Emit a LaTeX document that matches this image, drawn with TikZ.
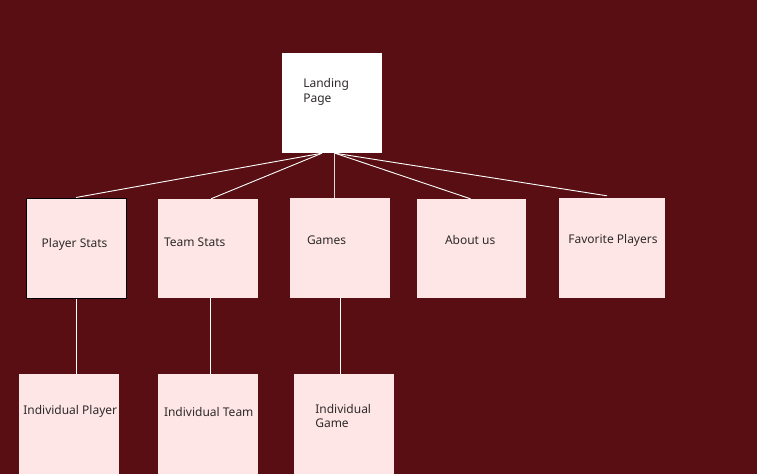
\documentclass[tikz,border=0pt]{standalone}
\usepackage{fontspec}
\setmainfont{Noto Sans}
\definecolor{bgred}{HTML}{580E12}
\definecolor{pagepink}{HTML}{FFE6E6}
\definecolor{txtgray}{HTML}{2E2A2A}
\begin{document}
\begin{tikzpicture}[x=1pt,y=-1pt,
        page/.style={rectangle,fill=pagepink,inner sep=0pt,minimum width=100pt,minimum height=100pt},
        home/.style={page,fill=white},
        txt/.style={text=txtgray,inner sep=0pt,anchor=west,align=left,font=\fontsize{12}{14.7}\selectfont},
        link/.style={draw=white,line width=0.9pt}
      ]
      \fill[bgred] (0,0) rectangle (757,474);
      \useasboundingbox (0,0) rectangle (757,474);
      % top level
      \node[home,label={[txt,xshift=21.3pt,yshift=11pt]west:Landing\\Page}] (landing) at (332,103) {};
      % second level
      \node[page,draw=black,line width=1pt,label={[txt,xshift=16pt,yshift=4pt]west:Player Stats}] (playerstats) at (76,248) {};
      \node[page,minimum height=99pt,label={[txt,xshift=6pt,yshift=6pt]west:Team Stats}] (teamstats) at (208,248.5) {};
      \node[page,label={[txt,xshift=17pt,yshift=8pt]west:Games}] (games) at (340,248) {};
      \node[page,minimum width=109pt,minimum height=99pt,label={[txt,xshift=28pt,yshift=8.5pt]west:About us}] (aboutus) at (471.5,248.5) {};
      \node[page,minimum width=106pt,label={[txt,xshift=9.3pt,yshift=8pt]west:Favorite Players}] (favorites) at (612,248) {};
      % third level
      \node[page,label={[txt,xshift=4.3pt,yshift=12.3pt]west:Individual Player}] (indplayer) at (69,424) {};
      \node[page,label={[txt,xshift=6pt,yshift=12.3pt]west:Individual Team}] (indteam) at (208,424) {};
      \node[page,label={[txt,xshift=21.3pt,yshift=8pt]west:Individual\\Game}] (indgame) at (344,424) {};
      % links
      \draw[link] ([xshift=-10pt]landing.south) -- (playerstats.north);
      \draw[link] ([xshift=-10pt]landing.south) -- ([xshift=3pt]teamstats.north);
      \draw[link,draw=white!70!gray] ([xshift=2pt]landing.south) -- ([xshift=2pt]landing.south |- games.north);
      \draw[link] ([xshift=3pt]landing.south) -- ([xshift=-1pt]aboutus.north);
      \draw[link] ([xshift=3pt]landing.south) -- ([xshift=-5pt,yshift=2pt]favorites.north);
      \draw[link] (playerstats.south) -- (playerstats.south |- indplayer.north);
      \draw[link] ([xshift=2pt]teamstats.south) -- ([xshift=2pt]teamstats.south |- indteam.north);
      \draw[link] (games.south) -- (games.south |- indgame.north);
    \end{tikzpicture}
\end{document}
